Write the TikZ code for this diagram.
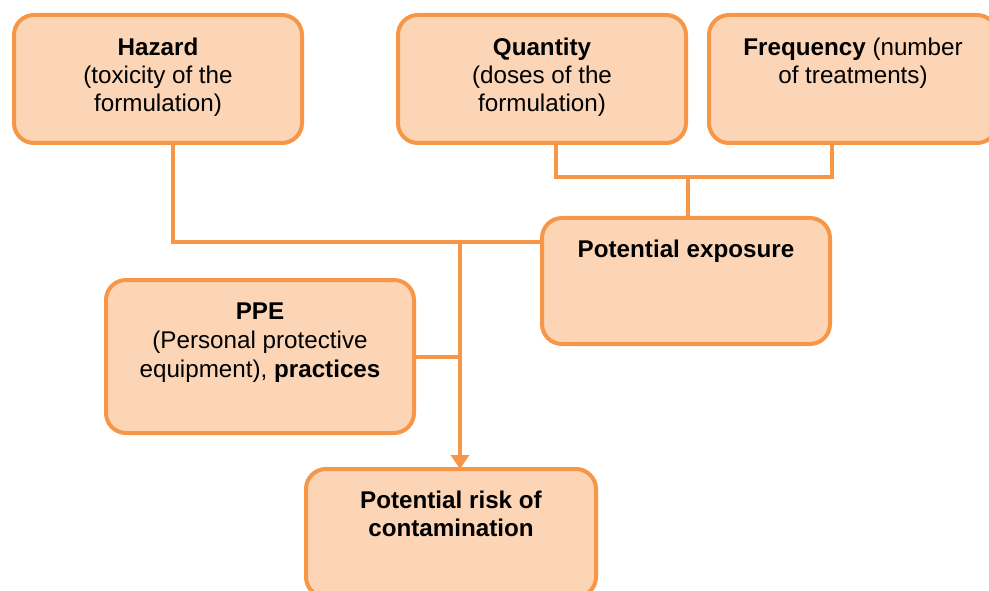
\documentclass[tikz,border=0pt]{standalone}
\usepackage{fontspec}
\setmainfont{Liberation Sans}
\usetikzlibrary{arrows.meta,calc,positioning}
\definecolor{boxline}{HTML}{F79646}
\definecolor{boxfill}{HTML}{FBD5B5}
\tikzset{
    x=1pt,y=-1pt,
    state/.style ={rectangle, draw=boxline, fill=boxfill, line width=4pt, rounded corners=20pt, inner sep=0pt, minimum width=288pt, minimum height=128pt},
    txt/.style = {anchor=base, align=center, inner sep=0pt, font=\fontsize{24.2}{28}\selectfont},
    link/.style = {draw=boxline, line width=4pt},
    arr/.style = {link, -{Triangle[width=18pt,length=14pt]}}
}
\begin{document}
\begin{tikzpicture}
    \clip (0,0) rectangle (989,591);
    \node[state] (h) at (158,79) {};
    \node[state] (q) at (542,79) {};
    \node[state] (f) at (853,79) {};
    \node[state, minimum height=126pt] (e) at (686,281) {};
    \node[state, minimum width=308pt, minimum height=153pt] (p) at (260,356.5) {};
    \node[state, minimum width=290pt] (r) at (451,533) {};

    \node[txt] (ht) at ([yshift=-99pt]h.north) {\textbf{Hazard}\\(toxicity of the\\formulation)};
    \node[txt] (qt) at ([yshift=-99pt]q.north) {\textbf{Quantity}\\(doses of the\\formulation)};
    \node[txt] (ft) at ([yshift=-71pt]f.north) {\textbf{Frequency} (number\\of treatments)};
    \node[txt] (et) at ([yshift=-42pt]e.north) {\textbf{Potential exposure}};
    \node[txt, font=\fontsize{24.2}{29}\selectfont] (pt) at ([yshift=-99pt]p.north) {\textbf{PPE}\\(Personal protective\\equipment), \textbf{practices}};
    \node[txt] (rt) at ([yshift=-69pt]r.north) {\textbf{Potential risk of}\\\textbf{contamination}};

    \coordinate (j) at (460,242);
    \coordinate (k) at (688,177);

    \path[link] ([xshift=15pt]h.south) |- (j) -- (j -| e.west);
    \path[link] (p.east) -- (p.east -| j);
    \path[arr] (j) -- ([yshift=-2pt]j |- r.north);
    \path[link] ([xshift=14pt]q.south) |- (k) -| ([xshift=-21pt]f.south);
    \path[link] (k) -- (k |- e.north);
\end{tikzpicture}
\end{document}
